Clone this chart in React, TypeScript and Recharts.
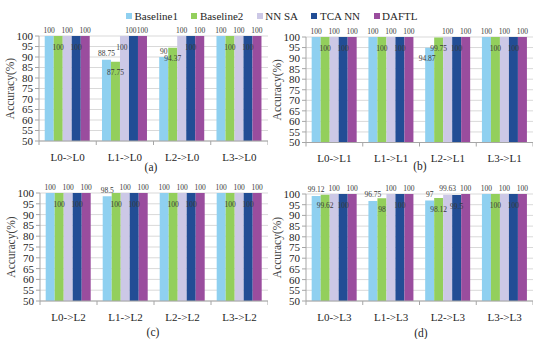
import React from 'react';
import { BarChart, Bar, XAxis, YAxis, CartesianGrid, LabelList } from 'recharts';

const seriesNames = ['Baseline1', 'Baseline2', 'NN SA', 'TCA NN', 'DAFTL'];
const seriesColors = ['#8fd0f0', '#93cf5c', '#ccc8e6', '#224d95', '#9a4d9e'];
const yTicks = [50, 55, 60, 65, 70, 75, 80, 85, 90, 95, 100];

// (a) target L0
const catsA = ['L0->L0', 'L1->L0', 'L2->L0', 'L3->L0'];
const baseline1A = [100, 88.75, 90, 100];
const baseline2A = [100, 87.75, 94.37, 100];
const nnSaA = [100, 100, 100, 100];
const tcaNnA = [100, 100, 100, 100];
const daftlA = [100, 100, 100, 100];

// (b) target L1
const catsB = ['L0->L1', 'L1->L1', 'L2->L1', 'L3->L1'];
const baseline1B = [100, 100, 94.87, 100];
const baseline2B = [100, 100, 99.75, 100];
const nnSaB = [100, 100, 100, 100];
const tcaNnB = [100, 100, 100, 100];
const daftlB = [100, 100, 100, 100];

// (c) target L2
const catsC = ['L0->L2', 'L1->L2', 'L2->L2', 'L3->L2'];
const baseline1C = [100, 98.5, 100, 100];
const baseline2C = [100, 100, 100, 100];
const nnSaC = [100, 100, 100, 100];
const tcaNnC = [100, 100, 100, 100];
const daftlC = [100, 100, 100, 100];

// (d) target L3
const catsD = ['L0->L3', 'L1->L3', 'L2->L3', 'L3->L3'];
const baseline1D = [99.12, 96.75, 97, 100];
const baseline2D = [99.62, 98, 98.12, 100];
const nnSaD = [100, 100, 99.63, 100];
const tcaNnD = [100, 100, 99.5, 100];
const daftlD = [100, 100, 100, 100];

const FONT = "'Liberation Serif', 'Times New Roman', serif";

type Row = { cat: string; [k: string]: number | string };

function buildRows(cats: string[], cols: number[][]): Row[] {
  return cats.map((cat, i) => {
    const row: Row = { cat };
    cols.forEach((col, s) => {
      row['s' + s] = col[i];
    });
    return row;
  });
}

// odd series put their value just under the bar top, even series above it;
// "category-series" keys listed here swap that (and shift a bit left)
const swappedLabels: Record<string, string[]> = {
  a: ['1-2', '1-3'],
  b: ['2-0'],
  c: [],
  d: [],
};

function valueLabel(seriesIdx: number, swaps: string[]) {
  return (props: any) => {
    const { x, y, width, value, index } = props;
    let below = seriesIdx % 2 === 1;
    const swapped = swaps.includes(`${index}-${seriesIdx}`);
    if (swapped) below = !below;
    const cy = Number(y) + (below ? 11 : -6);
    const cx = Number(x) + Number(width) / 2 + (swapped ? -2.5 : 0);
    return (
      <text
        x={cx}
        y={cy}
        textAnchor="middle"
        dominantBaseline="central"
        fontSize={7.5}
        fontFamily={FONT}
        fill="#3a3a3a"
      >
        {value}
      </text>
    );
  };
}

// category label plus short marks on the band edges
function categoryTick(band: number, count: number) {
  return (props: any) => {
    const { x, y, payload, index } = props;
    return (
      <g>
        <line x1={x - band / 2} x2={x - band / 2} y1={y} y2={y + 4} stroke="#a6a6a6" />
        {index === count - 1 && (
          <line x1={x + band / 2} x2={x + band / 2} y1={y} y2={y + 4} stroke="#a6a6a6" />
        )}
        <text x={x} y={y + 12} dy="0.71em" textAnchor="middle" fontSize={11} fontFamily={FONT} fill="#262626">
          {payload.value}
        </text>
      </g>
    );
  };
}

function yTitle(props: any) {
  const { viewBox } = props;
  const cx = viewBox.x + 10;
  const cy = viewBox.y + viewBox.height / 2;
  return (
    <text
      x={cx}
      y={cy}
      transform={`rotate(-90 ${cx} ${cy})`}
      textAnchor="middle"
      dominantBaseline="central"
      fontSize={11.5}
      fontFamily={FONT}
      fill="#404040"
    >
      Accuracy(%)
    </text>
  );
}

type PanelProps = {
  rows: Row[];
  swaps: string[];
  left: number;
  top: number;
  width: number;
  height: number;
  marginTop: number;
};

function Panel({ rows, swaps, left, top, width, height, marginTop }: PanelProps) {
  const yAxisW = 39;
  const band = (width - yAxisW) / rows.length;
  return (
    <div style={{ position: 'absolute', left, top }}>
      <BarChart
        width={width}
        height={height}
        data={rows}
        margin={{ top: marginTop, right: 0, bottom: 0, left: 0 }}
        barGap={0}
        barCategoryGap="10%"
      >
        <CartesianGrid vertical={false} stroke="#d9d9d9" />
        <XAxis
          dataKey="cat"
          height={21}
          stroke="#a6a6a6"
          tickLine={false}
          tickSize={0}
          tickMargin={0}
          interval={0}
          tick={categoryTick(band, rows.length)}
        />
        <YAxis
          domain={[50, 100]}
          ticks={yTicks}
          interval={0}
          width={yAxisW}
          allowDataOverflow
          stroke="#a6a6a6"
          tickSize={4}
          tickMargin={2}
          tick={{ fontSize: 11, fontFamily: FONT, fill: '#262626' }}
          label={yTitle}
        />
        {seriesNames.map((name, s) => (
          <Bar key={name} dataKey={'s' + s} name={name} fill={seriesColors[s]} isAnimationActive={false}>
            <LabelList dataKey={'s' + s} content={valueLabel(s, swaps)} />
          </Bar>
        ))}
      </BarChart>
    </div>
  );
}

function Caption({ text, x, y }: { text: string; x: number; y: number }) {
  return (
    <div
      style={{
        position: 'absolute',
        left: x - 20,
        top: y - 8,
        width: 40,
        height: 16,
        lineHeight: '16px',
        textAlign: 'center',
        fontSize: 11.5,
        color: '#262626',
      }}
    >
      {text}
    </div>
  );
}

export default function App() {
  const rowsA = buildRows(catsA, [baseline1A, baseline2A, nnSaA, tcaNnA, daftlA]);
  const rowsB = buildRows(catsB, [baseline1B, baseline2B, nnSaB, tcaNnB, daftlB]);
  const rowsC = buildRows(catsC, [baseline1C, baseline2C, nnSaC, tcaNnC, daftlC]);
  const rowsD = buildRows(catsD, [baseline1D, baseline2D, nnSaD, tcaNnD, daftlD]);

  return (
    <div
      style={{
        position: 'absolute',
        left: 0,
        top: 0,
        width: 533,
        height: 339,
        background: '#fff',
        fontFamily: FONT,
        overflow: 'hidden',
      }}
    >
      <div
        style={{
          position: 'absolute',
          left: 126,
          top: 8,
          height: 16,
          display: 'flex',
          alignItems: 'center',
          fontSize: 11,
          color: '#262626',
          whiteSpace: 'nowrap',
        }}
      >
        {seriesNames.map((name, s) => (
          <div key={name} style={{ display: 'flex', alignItems: 'center', marginRight: 13.5 }}>
            <span style={{ width: 6, height: 6, background: seriesColors[s], marginRight: 2.5 }} />
            <span>{name}</span>
          </div>
        ))}
      </div>

      <Panel rows={rowsA} swaps={swappedLabels.a} left={0} top={0} width={268} height={162} marginTop={36} />
      <Panel rows={rowsB} swaps={swappedLabels.b} left={267} top={0} width={266} height={163.5} marginTop={37} />
      <Panel rows={rowsC} swaps={swappedLabels.c} left={1} top={160} width={267} height={162} marginTop={33} />
      <Panel rows={rowsD} swaps={swappedLabels.d} left={267} top={160} width={266} height={162} marginTop={34} />

      <Caption text="(a)" x={151} y={166.5} />
      <Caption text="(b)" x={420} y={165.5} />
      <Caption text="(c)" x={153} y={331.5} />
      <Caption text="(d)" x={421} y={332.5} />
    </div>
  );
}
